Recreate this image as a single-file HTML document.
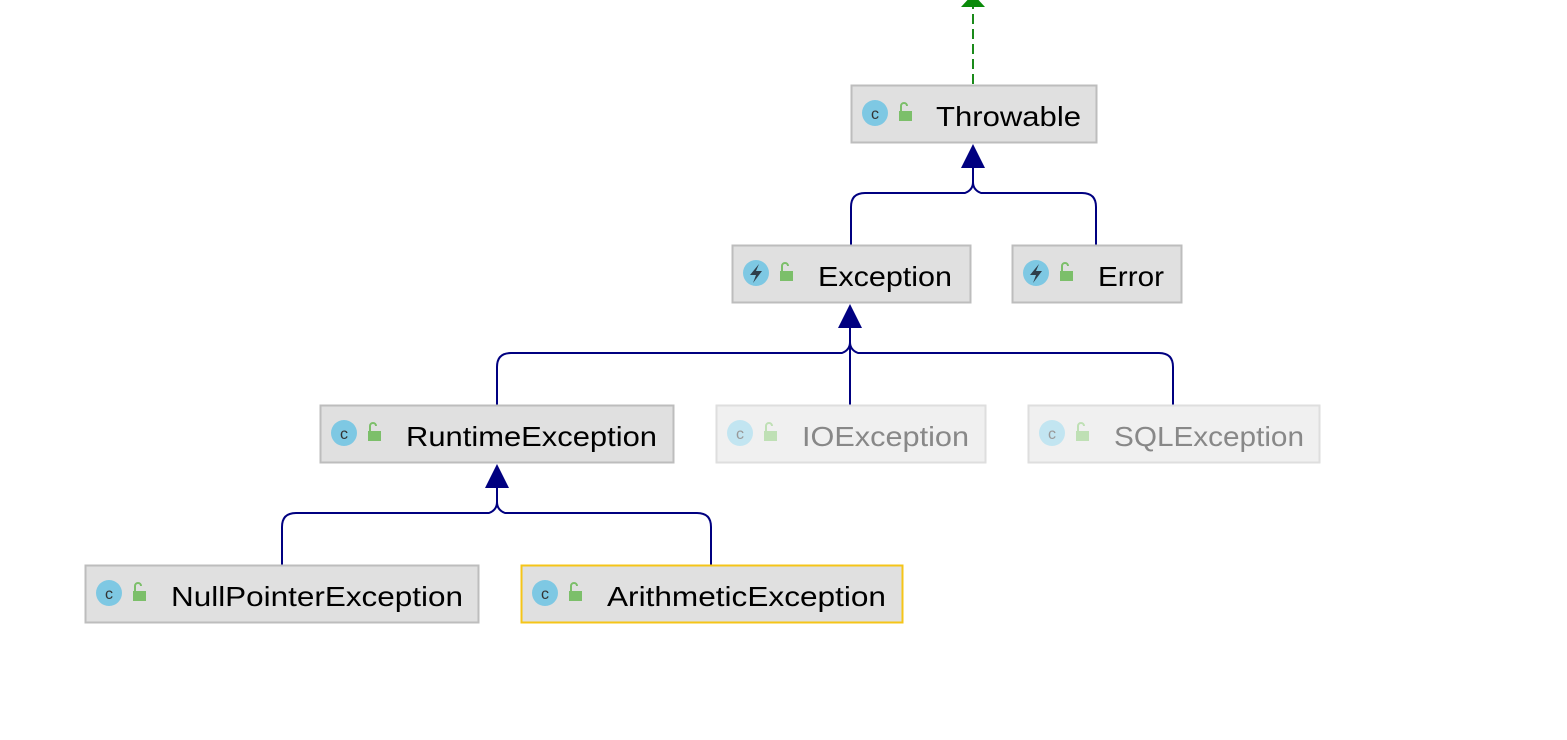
<!DOCTYPE html>
<html><head><style>html,body{margin:0;padding:0;background:#fff}svg{display:block}</style></head><body>
<svg width="1567" height="740" xmlns="http://www.w3.org/2000/svg" font-family="'Liberation Sans', sans-serif">
<line x1="973" y1="84" x2="973" y2="6" stroke="#1a8a1a" stroke-width="2" stroke-dasharray="10,5"/>
<polygon points="961,7 985,7 973,-6" fill="#0a8a0a"/>
<g stroke="#000080" stroke-width="2" fill="none">
<path d="M973,166 V182 Q973,190 965,193 H865 Q851,193 851,207 V245"/>
<path d="M973,182 Q973,190 981,193 H1082 Q1096,193 1096,207 V245"/>
<path d="M850,326 V342 Q850,350 842,353 H511 Q497,353 497,367 V405"/>
<path d="M850,342 Q850,350 858,353 H1159 Q1173,353 1173,367 V405"/>
<path d="M850,326 V405"/>
<path d="M497,486 V502 Q497,510 489,513 H296 Q282,513 282,527 V565"/>
<path d="M497,502 Q497,510 505,513 H697 Q711,513 711,527 V565"/>
</g>
<polygon points="961,168 985,168 973,144" fill="#000080"/>
<polygon points="838,328 862,328 850,304" fill="#000080"/>
<polygon points="485,488 509,488 497,464" fill="#000080"/>

<g font-size="28">
<rect x="851.5" y="85.5" width="245" height="57" fill="#e0e0e0" stroke="#bdbdbd" stroke-width="2"/>
<circle cx="875" cy="113" r="13" fill="#7ec8e3"/><text x="875" y="119" font-size="16" text-anchor="middle" fill="#333">c</text>
<rect x="899" y="111" width="13" height="10" fill="#7cbf6a"/><path d="M901,111 v-5 a3,3 0 0 1 6,0" stroke="#7cbf6a" stroke-width="2" fill="none"/>
<text x="936" y="126" textLength="145" lengthAdjust="spacingAndGlyphs" fill="#000">Throwable</text>

<rect x="732.5" y="245.5" width="238" height="57" fill="#e0e0e0" stroke="#bdbdbd" stroke-width="2"/>
<circle cx="756" cy="273" r="13" fill="#7ec8e3"/><polygon points="759,264 750,275 756,275 753,283 762,271 756,271" fill="#2f3e4a"/>
<rect x="780" y="271" width="13" height="10" fill="#7cbf6a"/><path d="M782,271 v-5 a3,3 0 0 1 6,0" stroke="#7cbf6a" stroke-width="2" fill="none"/>
<text x="818" y="286" textLength="134" lengthAdjust="spacingAndGlyphs" fill="#000">Exception</text>

<rect x="1012.5" y="245.5" width="169" height="57" fill="#e0e0e0" stroke="#bdbdbd" stroke-width="2"/>
<circle cx="1036" cy="273" r="13" fill="#7ec8e3"/><polygon points="1039,264 1030,275 1036,275 1033,283 1042,271 1036,271" fill="#2f3e4a"/>
<rect x="1060" y="271" width="13" height="10" fill="#7cbf6a"/><path d="M1062,271 v-5 a3,3 0 0 1 6,0" stroke="#7cbf6a" stroke-width="2" fill="none"/>
<text x="1098" y="286" textLength="66" lengthAdjust="spacingAndGlyphs" fill="#000">Error</text>

<rect x="320.5" y="405.5" width="353" height="57" fill="#e0e0e0" stroke="#bdbdbd" stroke-width="2"/>
<circle cx="344" cy="433" r="13" fill="#7ec8e3"/><text x="344" y="439" font-size="16" text-anchor="middle" fill="#333">c</text>
<rect x="368" y="431" width="13" height="10" fill="#7cbf6a"/><path d="M370,431 v-5 a3,3 0 0 1 6,0" stroke="#7cbf6a" stroke-width="2" fill="none"/>
<text x="406" y="446" textLength="251" lengthAdjust="spacingAndGlyphs" fill="#000">RuntimeException</text>

<rect x="716.5" y="405.5" width="269" height="57" fill="#f0f0f0" stroke="#dedede" stroke-width="2"/>
<circle cx="740" cy="433" r="13" fill="#c2e5f1"/><text x="740" y="439" font-size="16" text-anchor="middle" fill="#999">c</text>
<rect x="764" y="431" width="13" height="10" fill="#bfe0b5"/><path d="M766,431 v-5 a3,3 0 0 1 6,0" stroke="#bfe0b5" stroke-width="2" fill="none"/>
<text x="802" y="446" textLength="167" lengthAdjust="spacingAndGlyphs" fill="#888">IOException</text>

<rect x="1028.5" y="405.5" width="291" height="57" fill="#f0f0f0" stroke="#dedede" stroke-width="2"/>
<circle cx="1052" cy="433" r="13" fill="#c2e5f1"/><text x="1052" y="439" font-size="16" text-anchor="middle" fill="#999">c</text>
<rect x="1076" y="431" width="13" height="10" fill="#bfe0b5"/><path d="M1078,431 v-5 a3,3 0 0 1 6,0" stroke="#bfe0b5" stroke-width="2" fill="none"/>
<text x="1114" y="446" textLength="190" lengthAdjust="spacingAndGlyphs" fill="#888">SQLException</text>

<rect x="85.5" y="565.5" width="393" height="57" fill="#e0e0e0" stroke="#bdbdbd" stroke-width="2"/>
<circle cx="109" cy="593" r="13" fill="#7ec8e3"/><text x="109" y="599" font-size="16" text-anchor="middle" fill="#333">c</text>
<rect x="133" y="591" width="13" height="10" fill="#7cbf6a"/><path d="M135,591 v-5 a3,3 0 0 1 6,0" stroke="#7cbf6a" stroke-width="2" fill="none"/>
<text x="171" y="606" textLength="292" lengthAdjust="spacingAndGlyphs" fill="#000">NullPointerException</text>

<rect x="521.5" y="565.5" width="381" height="57" fill="#e0e0e0" stroke="#f5c518" stroke-width="2"/>
<circle cx="545" cy="593" r="13" fill="#7ec8e3"/><text x="545" y="599" font-size="16" text-anchor="middle" fill="#333">c</text>
<rect x="569" y="591" width="13" height="10" fill="#7cbf6a"/><path d="M571,591 v-5 a3,3 0 0 1 6,0" stroke="#7cbf6a" stroke-width="2" fill="none"/>
<text x="607" y="606" textLength="279" lengthAdjust="spacingAndGlyphs" fill="#000">ArithmeticException</text>
</g>
</svg>
</body></html>
